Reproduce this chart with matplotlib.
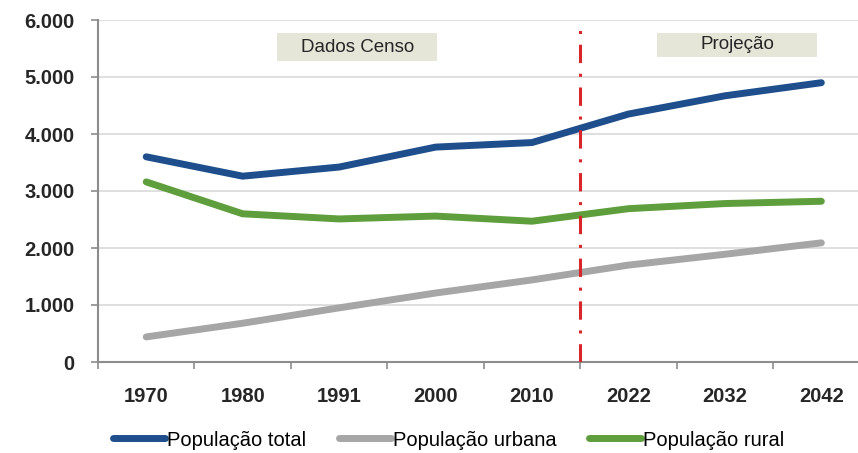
import numpy as np
import matplotlib
matplotlib.use('Agg')
import matplotlib.pyplot as plt
from matplotlib.ticker import FuncFormatter, FixedLocator
from matplotlib.lines import Line2D
from matplotlib.patches import Rectangle

# ---------------- data ----------------
anos = ['1970', '1980', '1991', '2000', '2010', '2022', '2032', '2042']
pop_total = [3600, 3260, 3420, 3770, 3850, 4350, 4670, 4900]
pop_urbana = [440, 680, 950, 1210, 1440, 1700, 1890, 2090]
pop_rural = [3160, 2600, 2510, 2560, 2470, 2690, 2780, 2820]

cor_total = '#1f4e8c'
cor_urbana = '#a6a6a6'
cor_rural = '#5f9e3c'

plt.rcParams['font.family'] = ['Liberation Sans', 'DejaVu Sans']

fig = plt.figure(figsize=(8.58, 4.53), dpi=100)
ax = fig.add_axes([98 / 858, 1 - 362 / 453, 1 - 98 / 858, (362 - 20) / 453])

x = np.arange(len(anos))
ax.plot(x, pop_total, color=cor_total, lw=5, solid_capstyle='round', solid_joinstyle='round', zorder=3)
ax.plot(x, pop_urbana, color=cor_urbana, lw=5, solid_capstyle='round', solid_joinstyle='round', zorder=3)
ax.plot(x, pop_rural, color=cor_rural, lw=5, solid_capstyle='round', solid_joinstyle='round', zorder=3)

# divisao censo / projecao
ax.axvline(4.5, ymin=0, ymax=0.975, color='#d9262b', lw=2.2, linestyle=(0, (6, 3.5, 1, 3.5)), zorder=4)

ax.set_xlim(-0.5, 7.38)
ax.set_ylim(0, 6000)

ax.yaxis.set_major_locator(FixedLocator(np.arange(0, 6001, 1000)))
ax.yaxis.set_major_formatter(FuncFormatter(lambda v, p: '0' if v == 0 else f'{int(v):,}'.replace(',', '.')))
ax.set_xticks(x)
ax.set_xticklabels(anos)
ax.xaxis.set_minor_locator(FixedLocator(np.arange(-0.5, 8, 1)))

ax.grid(axis='y', color='#d9d9d9', lw=1.2, zorder=0)
for s in ['top', 'right']:
    ax.spines[s].set_visible(False)
for s in ['left', 'bottom']:
    ax.spines[s].set_color('#8c8c8c')
    ax.spines[s].set_linewidth(1.5)

ax.tick_params(axis='y', which='major', length=5, width=1.2, color='#8c8c8c',
               labelsize=14.5, pad=12, labelcolor='#262626')
ax.tick_params(axis='x', which='major', length=0, labelsize=14.5, pad=18, labelcolor='#262626')
ax.tick_params(axis='x', which='minor', length=5, width=1.2, color='#8c8c8c')
for lab in ax.get_xticklabels() + ax.get_yticklabels():
    lab.set_fontweight('bold')

# caixas de texto (coordenadas do eixo)
caixas = [('Dados Censo', 0.2355, 0.880, 0.211, 0.082),
          ('Projeção', 0.7355, 0.892, 0.211, 0.070)]
for txt, bx, by, bw, bh in caixas:
    ax.add_patch(Rectangle((bx, by), bw, bh, transform=ax.transAxes,
                           facecolor='#e6e6d8', edgecolor='none', zorder=5, clip_on=False))
    ax.text(bx + bw / 2, by + bh / 2, txt, transform=ax.transAxes, ha='center', va='center',
            fontsize=13.5, color='#262626', zorder=6)

# legenda
handles = [Line2D([0], [0], color=cor_total, lw=5, solid_capstyle='round'),
           Line2D([0], [0], color=cor_urbana, lw=5, solid_capstyle='round'),
           Line2D([0], [0], color=cor_rural, lw=5, solid_capstyle='round')]
fig.legend(handles, ['População total', 'População urbana', 'População rural'],
           loc='center', bbox_to_anchor=(0.523, 1 - 440 / 453), ncol=3, frameon=False,
           fontsize=14.5, handlelength=2.6, handletextpad=0.1, columnspacing=1.6)

fig.savefig('out.png', dpi=100)
